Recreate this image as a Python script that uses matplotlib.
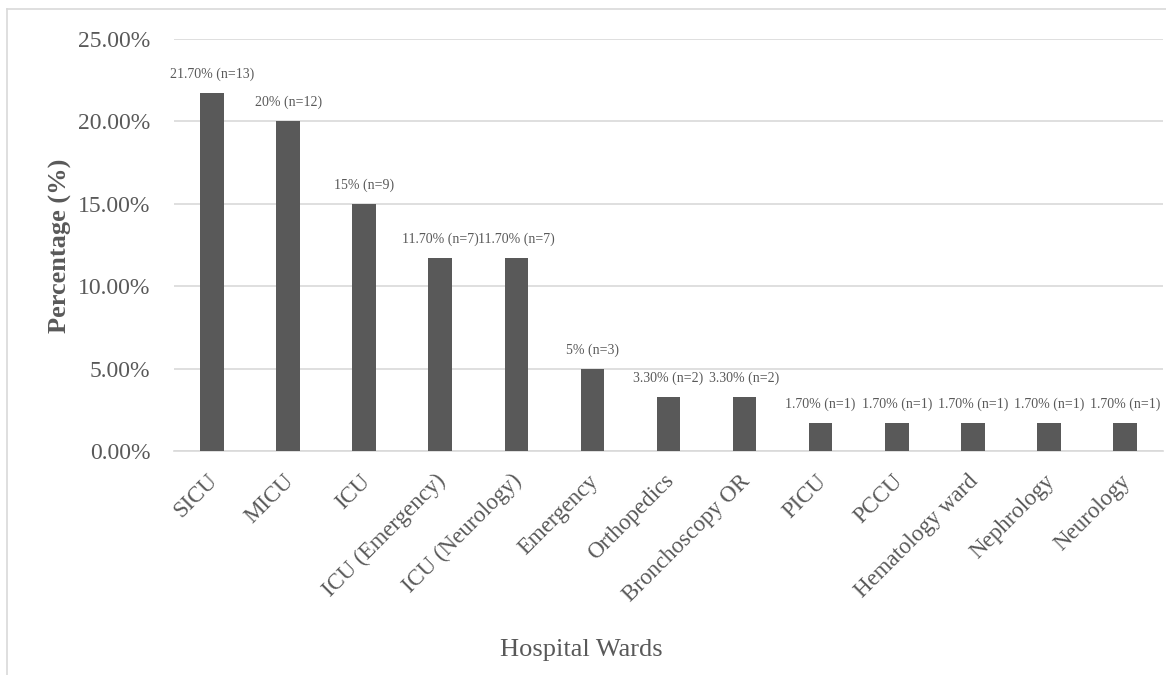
import matplotlib
matplotlib.use("Agg")
import matplotlib.pyplot as plt
from matplotlib.lines import Line2D
from matplotlib.transforms import ScaledTranslation

categories = ["SICU", "MICU", "ICU", "ICU (Emergency)", "ICU (Neurology)", "Emergency",
              "Orthopedics", "Bronchoscopy OR", "PICU", "PCCU", "Hematology ward",
              "Nephrology", "Neurology"]
values = [21.7, 20.0, 15.0, 11.7, 11.7, 5.0, 3.3, 3.3, 1.7, 1.7, 1.7, 1.7, 1.7]
labels = ["21.70% (n=13)", "20% (n=12)", "15% (n=9)", "11.70% (n=7)", "11.70% (n=7)",
          "5% (n=3)", "3.30% (n=2)", "3.30% (n=2)", "1.70% (n=1)", "1.70% (n=1)",
          "1.70% (n=1)", "1.70% (n=1)", "1.70% (n=1)"]
yticks = [0, 5, 10, 15, 20, 25]

plt.rcParams['font.family'] = ['Liberation Serif', 'DejaVu Serif']
txt = '#595959'
grid = '#d9d9d9'

fig = plt.figure(figsize=(11.66, 6.75), dpi=100)
ax = fig.add_axes([174/1166, 1-451/675, (1163-174)/1166, (451-39)/675])

x = range(len(categories))
ax.bar(x, values, width=0.31, color='#595959', zorder=3)
ax.set_xlim(-0.5, len(categories)-0.5)
ax.set_ylim(0, 25)
ax.set_yticks(yticks)
ax.set_yticklabels([f"{v:.2f}%" for v in yticks], fontsize=17, color=txt)
ax.yaxis.grid(True, color=grid, linewidth=1.2, zorder=0)
ax.tick_params(axis='both', length=0)
ax.tick_params(axis='y', pad=17)
for s in ['top', 'right', 'left']:
    ax.spines[s].set_visible(False)
ax.spines['bottom'].set_color(grid)
ax.spines['bottom'].set_linewidth(1.2)

ax.set_xticks(list(x))
ax.set_xticklabels(categories, rotation=45, ha='right', rotation_mode='anchor',
                   fontsize=16.5, color=txt)
ax.tick_params(axis='x', pad=14)
shift = ScaledTranslation(-5/100, 0, fig.dpi_scale_trans)
for lbl in ax.get_xticklabels():
    lbl.set_transform(lbl.get_transform() + shift)

for i, (v, lab) in enumerate(zip(values, labels)):
    ax.annotate(lab, (i, v), xytext=(0, 13.5), textcoords='offset points',
                ha='center', va='center', fontsize=10, color=txt, annotation_clip=False)

fig.text(60/1166, 1-246/675, "Percentage (%)", rotation=90, ha='center', va='center',
         fontsize=19, fontweight='bold', color=txt)
fig.text(581/1166, 1-650/675, "Hospital Wards", ha='center', va='center',
         fontsize=19, color=txt)

fig.add_artist(Line2D([7/1166, 7/1166], [0, 1-9/675], transform=fig.transFigure,
                      color=grid, linewidth=1.2))
fig.add_artist(Line2D([7/1166, 1], [1-9/675, 1-9/675], transform=fig.transFigure,
                      color=grid, linewidth=1.2))

fig.savefig("out.png", dpi=100)
